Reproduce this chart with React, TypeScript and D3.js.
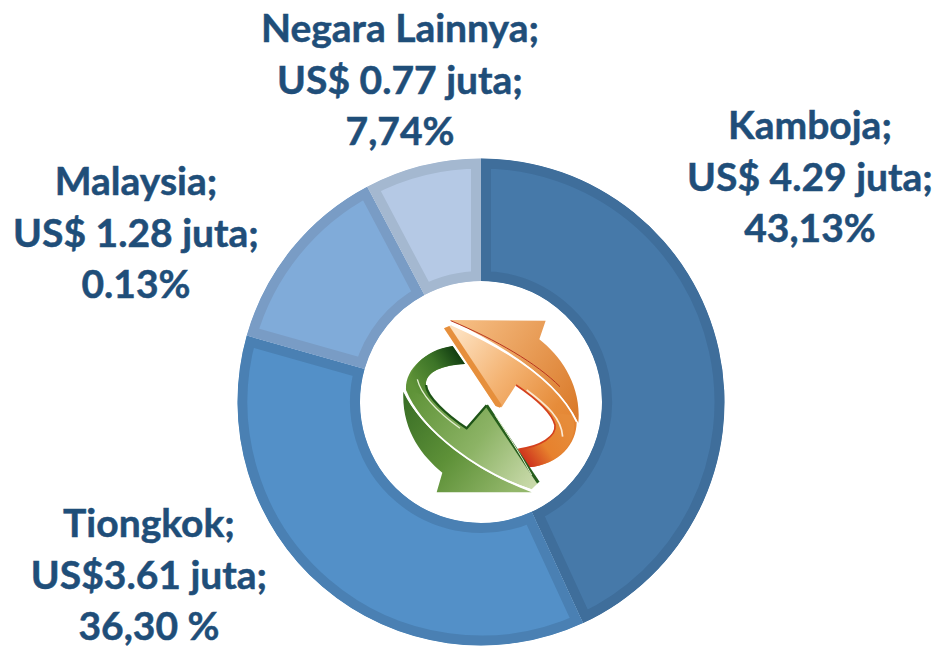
import React from "react";
import * as d3 from "d3";

const countries = ["Kamboja", "Tiongkok", "Malaysia", "Negara Lainnya"];
const values = [4.29, 3.61, 1.28, 0.77];
const valueLabels = ["US$ 4.29 juta;", "US$3.61 juta;", "US$ 1.28 juta;", "US$ 0.77 juta;"];
const shareLabels = ["43,13%", "36,30 %", "0.13%", "7,74%"];
const fills = ["#4679A9", "#5390C8", "#80ABD9", "#B5C9E5"];
const borders = ["#3F6E9B", "#4A80B3", "#799CC5", "#A4B8D0"];
const labelX = [810, 149, 136, 400];
const labelY = [139, 537, 195, 42];

const W = 938, H = 647, CX = 481, CY = 402, R = 243.5, RI = 121, BORDER = 10;

export default function App() {
  const pie = d3.pie<number>().sort(null).value((d) => d);
  const arc = d3.arc<d3.PieArcDatum<number>>().innerRadius(RI).outerRadius(R);
  const arcs = pie(values);
  return (
    <svg width={W} height={H} viewBox={`0 0 ${W} ${H}`}
      style={{ position: "absolute", left: 0, top: 0, display: "block", background: "#fff" }}>
      <defs>
        {arcs.map((a, i) => (
          <clipPath id={`slice${i}`} key={i}>
            <path d={arc(a) || ""} />
          </clipPath>
        ))}
        <linearGradient id="orBody" gradientUnits="userSpaceOnUse" x1="230" y1="130" x2="590" y2="420">
          <stop offset="0" stopColor="#FDE0BE" />
          <stop offset="0.4" stopColor="#F4B474" />
          <stop offset="0.8" stopColor="#E68C3A" />
          <stop offset="1" stopColor="#E38230" />
        </linearGradient>
        <linearGradient id="orTop" gradientUnits="userSpaceOnUse" x1="230" y1="90" x2="590" y2="350">
          <stop offset="0" stopColor="#F6BF85" />
          <stop offset="1" stopColor="#DB7C2C" />
        </linearGradient>
        <linearGradient id="orTail" gradientUnits="userSpaceOnUse" x1="570" y1="410" x2="430" y2="510">
          <stop offset="0" stopColor="#E68C3A" />
          <stop offset="0.55" stopColor="#E7812D" />
          <stop offset="1" stopColor="#CC2F1C" />
        </linearGradient>
        <linearGradient id="grBody" gradientUnits="userSpaceOnUse" x1="465" y1="570" x2="100" y2="300">
          <stop offset="0" stopColor="#C8D9A9" />
          <stop offset="0.45" stopColor="#8CB365" />
          <stop offset="1" stopColor="#5F9338" />
        </linearGradient>
        <linearGradient id="grLow" gradientUnits="userSpaceOnUse" x1="75" y1="330" x2="400" y2="600">
          <stop offset="0" stopColor="#3A6F26" />
          <stop offset="0.5" stopColor="#5E9138" />
          <stop offset="1" stopColor="#93B76B" />
        </linearGradient>
        <linearGradient id="grTail" gradientUnits="userSpaceOnUse" x1="100" y1="290" x2="240" y2="190">
          <stop offset="0" stopColor="#5F9338" />
          <stop offset="0.55" stopColor="#3C7427" />
          <stop offset="1" stopColor="#0F3A10" />
        </linearGradient>
      </defs>

      {arcs.map((a, i) => (
        <path key={i} d={arc(a) || ""} transform={`translate(${CX},${CY})`}
          fill={fills[i]} stroke={borders[i]} strokeWidth={BORDER * 2}
          clipPath={`url(#slice${i})`} />
      ))}

      {/* centre icon */}
      <g transform="translate(380,290) scale(0.3333)">
        {/* orange arrow */}
        <path d="M210,90 L497,92 L478,148 C545,200 605,290 595,398 C540,285 400,180 210,90 Z" fill="url(#orTop)" />
        <path d="M192,115 L215,105 C400,187 540,287 590,396 C590,460 540,525 445,532 L415,478 C480,470 530,440 525,405 C515,365 460,320 408,285 L365,352 L347,348 Z" fill="url(#orBody)" />
        <path d="M578,375 C600,450 540,525 445,532 L415,478 C480,470 530,440 525,405 C522,392 515,380 505,368 Z" fill="url(#orTail)" />
        <path d="M408,285 C460,320 515,365 525,405 C530,440 480,470 415,478" stroke="#D4401E" strokeWidth={5} fill="none" />
        <path d="M192,115 L208,108 L365,345 L360,353 L347,348 Z" fill="#E68F3C" />
        <path d="M212,92 C350,150 470,220 540,290" stroke="#B8331F" strokeWidth={3} fill="none" />
        <path d="M215,104 C400,186 540,286 590,396" stroke="#fff" strokeWidth={5} fill="none" />
        <path d="M440,300 C500,345 545,385 548,440" stroke="#FBE8D2" strokeWidth={5} fill="none" />

        {/* green arrow */}
        <path d="M70,305 C65,420 125,498 187,548 L170,607 L455,607 C300,550 130,430 70,305 Z" fill="url(#grLow)" />
        <path d="M78,300 C130,425 290,545 455,598 L475,578 L320,346 L260,415 C200,375 140,320 138,285 C135,245 190,225 255,222 L218,168 C130,185 75,240 78,300 Z" fill="url(#grBody)" />
        <path d="M90,300 C80,240 130,180 218,168 L255,222 C190,225 135,245 138,285 C140,300 148,315 160,330 Z" fill="url(#grTail)" />
        <path d="M138,285 C140,320 200,375 260,415 L320,346" stroke="#1E5417" strokeWidth={7} fill="none" />
        <path d="M320,346 L475,578" stroke="#255E1C" strokeWidth={9} fill="none" />
        <path d="M74,305 C130,425 290,545 455,601" stroke="#fff" strokeWidth={5} fill="none" />
        <path d="M112,268 C125,320 185,375 240,415" stroke="#E5F0D2" strokeWidth={4} fill="none" />
        <path d="M345,375 C380,430 420,490 455,555" stroke="#E5F0D2" strokeWidth={3} fill="none" />
      </g>

      <g fontFamily="Lato, 'Open Sans', sans-serif" fontWeight={700} fontSize={39} fill="#1F4E79"
        stroke="#1F4E79" strokeWidth={0.5} textAnchor="middle">
        {countries.map((c, i) => (
          <g key={c}>
            <text x={labelX[i]} y={labelY[i]}>{c};</text>
            <text x={labelX[i]} y={labelY[i] + 52}>{valueLabels[i]}</text>
            <text x={labelX[i]} y={labelY[i] + 103}>{shareLabels[i]}</text>
          </g>
        ))}
      </g>
    </svg>
  );
}
